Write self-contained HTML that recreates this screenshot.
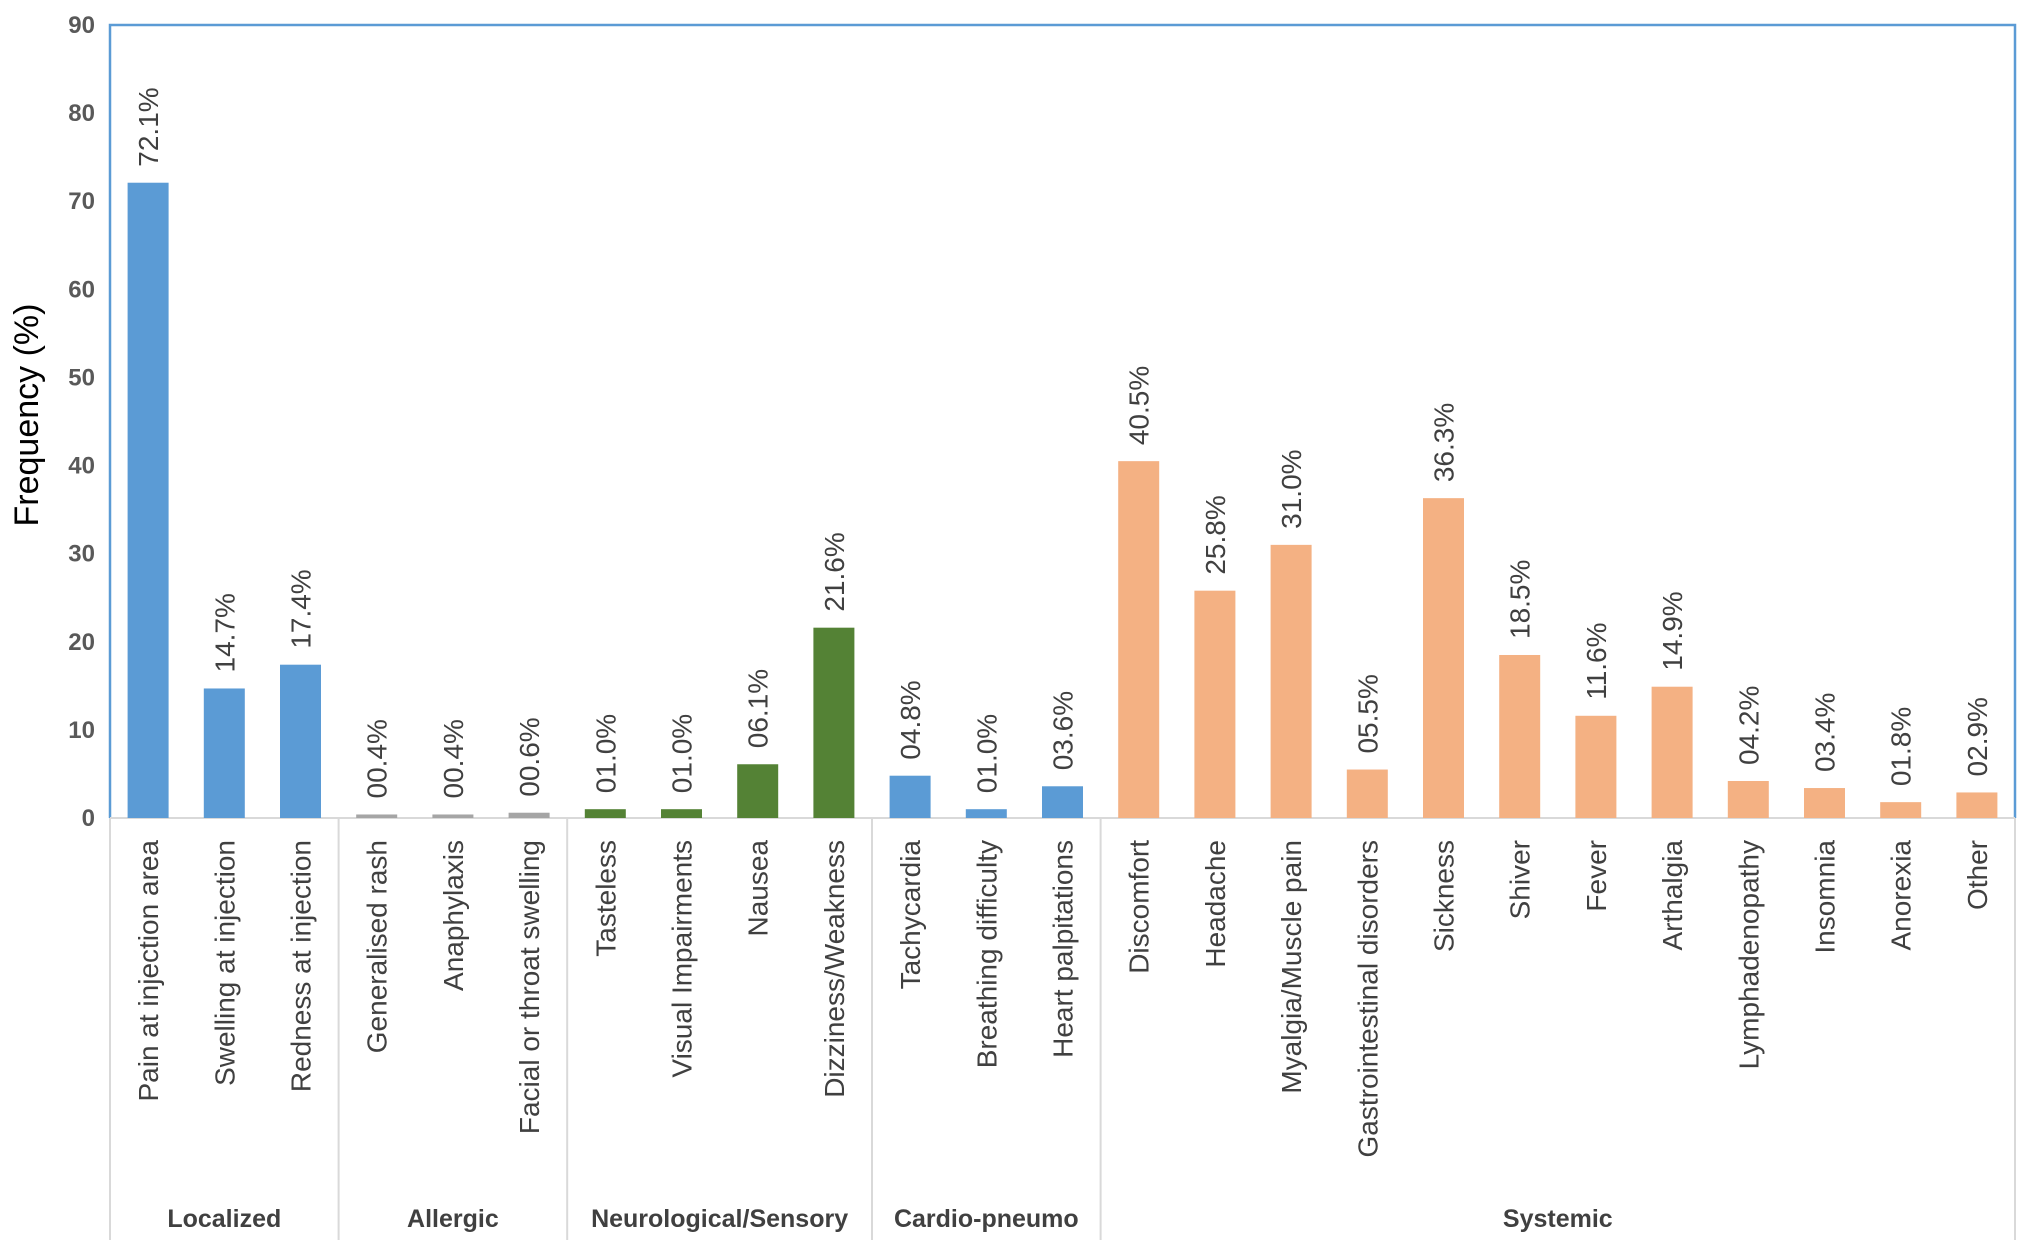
<!DOCTYPE html>
<html><head><meta charset="utf-8"><style>
html,body{margin:0;padding:0;background:#fff;}
svg{display:block;font-family:"Liberation Sans",sans-serif;}
</style></head><body>
<svg id="chart" width="2031" height="1250" viewBox="0 0 2031 1250">
<g id="grid"></g><g id="bars"></g><g id="labels"></g>
</svg>
<script>
const categories = ["Pain at injection area","Swelling at injection","Redness at injection","Generalised rash","Anaphylaxis","Facial or throat swelling","Tasteless","Visual Impairments","Nausea","Dizziness/Weakness","Tachycardia","Breathing difficulty","Heart palpitations","Discomfort","Headache","Myalgia/Muscle pain","Gastrointestinal disorders","Sickness","Shiver","Fever","Arthalgia","Lymphadenopathy","Insomnia","Anorexia","Other"];
const values = [72.1,14.7,17.4,0.4,0.4,0.6,1.0,1.0,6.1,21.6,4.8,1.0,3.6,40.5,25.8,31.0,5.5,36.3,18.5,11.6,14.9,4.2,3.4,1.8,2.9];
const valueLabels = ["72.1%","14.7%","17.4%","00.4%","00.4%","00.6%","01.0%","01.0%","06.1%","21.6%","04.8%","01.0%","03.6%","40.5%","25.8%","31.0%","05.5%","36.3%","18.5%","11.6%","14.9%","04.2%","03.4%","01.8%","02.9%"];
const groups = ["Localized","Allergic","Neurological/Sensory","Cardio-pneumo","Systemic"];
const groupSizes = [3,3,4,3,12];
const groupColors = ["#5b9bd5","#a5a5a5","#548235","#5b9bd5","#f4b183"];
const yTicks = [0,10,20,30,40,50,60,70,80,90];

const NS="http://www.w3.org/2000/svg";
const L=110,R=2015,T=25,B=818,YMAX=90;
const band=(R-L)/categories.length;
const xC=i=>L+(i+0.5)*band;
const y=v=>B-(v/YMAX)*(B-T);
function mk(tag,attrs,parent,text){const e=document.createElementNS(NS,tag);for(const k in attrs)e.setAttribute(k,attrs[k]);if(text!==undefined)e.textContent=text;parent.appendChild(e);return e;}
const grid=document.getElementById('grid'),bars=document.getElementById('bars'),labels=document.getElementById('labels');

let e=mk('path',{d:`M${L},${B} V${T} H${R} V${B}`,fill:'none',stroke:'#5b9bd5','stroke-width':2.5},grid);


e=mk('line',{x1:L,y1:B,x2:R,y2:B,stroke:'#d9d9d9','stroke-width':2},grid);



yTicks.forEach(t=>{
  const tl=mk('text',{x:95,y:y(t)+8,'text-anchor':'end','font-size':24,'font-weight':'bold',fill:'#595959'},labels,String(t));
  
  
});
e=mk('text',{transform:'translate(38,415) rotate(-90)','text-anchor':'middle','font-size':34,fill:'#000'},labels,'Frequency (%)');



const colorOf=[];
groupSizes.forEach((s,g)=>{for(let k=0;k<s;k++)colorOf.push(groupColors[g]);});
const bw=41;
values.forEach((v,i)=>{
  const b=mk('rect',{x:xC(i)-bw/2,y:y(v),width:bw,height:B-y(v),fill:colorOf[i]},bars);
  
  
  const vl=mk('text',{transform:`translate(${xC(i)+10},${y(v)-16}) rotate(-90)`,'font-size':28,fill:'#404040'},labels,valueLabels[i]);
  
  
  const cl=mk('text',{transform:`translate(${xC(i)+10},840) rotate(-90)`,'text-anchor':'end','font-size':28,fill:'#404040'},labels,categories[i]);
  
  
});
let start=0;
const seps=[0];
groupSizes.forEach((s,g)=>{
  const x0=L+start*band,x1=L+(start+s)*band;
  const gl=mk('text',{x:(x0+x1)/2,y:1227,'text-anchor':'middle','font-size':25,'font-weight':'bold',fill:'#404040'},labels,groups[g]);
  
  
  start+=s;seps.push(start);
});
seps.forEach(s=>{
  const ln=mk('line',{x1:L+s*band,y1:B,x2:L+s*band,y2:1240,stroke:'#d9d9d9','stroke-width':2},grid);
  
  
});
</script>
</body></html>
